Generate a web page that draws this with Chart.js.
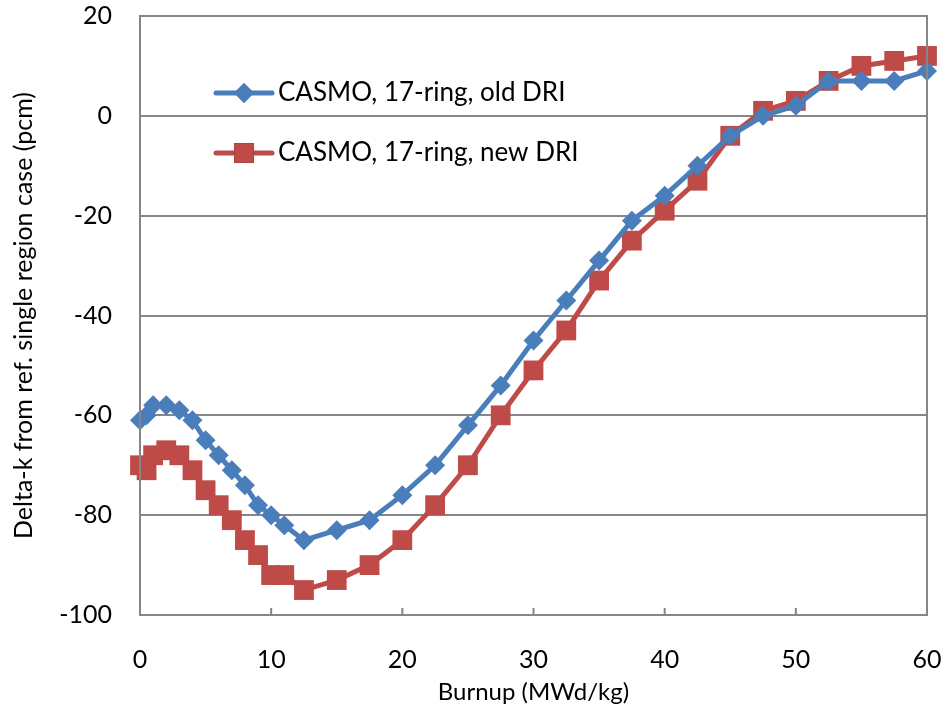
<!DOCTYPE html>
<html>
<head>
<meta charset="utf-8">
<script src="https://cdn.jsdelivr.net/npm/chart.js@4"></script>
<style>
  html, body { margin: 0; padding: 0; background: #fff; }
  #wrap { width: 945px; height: 721px; position: relative; }
</style>
</head>
<body>
<div id="wrap"><canvas id="chart"></canvas></div>
<script>
// burnup steps (MWd/kg)
const burnup = [0, 0.5, 1, 2, 3, 4, 5, 6, 7, 8, 9, 10, 11, 12.5, 15, 17.5, 20, 22.5, 25, 27.5, 30,
                32.5, 35, 37.5, 40, 42.5, 45, 47.5, 50, 52.5, 55, 57.5, 60];
// delta-k (pcm)
const oldDRI = [-61, -60, -58, -58, -59, -61, -65, -68, -71, -74, -78, -80, -82, -85, -83, -81, -76,
                -70, -62, -54, -45, -37, -29, -21, -16, -10, -4, 0, 2, 7, 7, 7, 9];
const newDRI = [-70, -71, -68, -67, -68, -71, -75, -78, -81, -85, -88, -92, -92, -95, -93, -90, -85,
                -78, -70, -60, -51, -43, -33, -25, -19, -13, -4, 1, 3, 7, 10, 11, 12];
const seriesNames = ['CASMO, 17-ring, old DRI', 'CASMO, 17-ring, new DRI'];

const FONT = 'Lato, "Open Sans", sans-serif';
const AXIS = '#868686';

function toPoints(ys) {
    return burnup.map((x, i) => ({x: x, y: ys[i]}));
}

function noPad(scale) {
    scale.paddingTop = 0;
    scale.paddingBottom = 0;
    scale.paddingLeft = 0;
    scale.paddingRight = 0;
}

// frame around the plot + short inner tick marks on the x axis
const framePlugin = {
    id: 'frame',
    afterDraw(chart) {
        const ctx = chart.ctx;
        const a = chart.chartArea;
        const xs = chart.scales.x;
        ctx.save();
        ctx.strokeStyle = AXIS;
        ctx.lineWidth = 2;
        xs.ticks.forEach(t => {
            const px = xs.getPixelForValue(t.value);
            ctx.beginPath();
            ctx.moveTo(px, a.bottom);
            ctx.lineTo(px, a.bottom - 7);
            ctx.stroke();
        });
        ctx.strokeRect(a.left, a.top, a.right - a.left, a.bottom - a.top);
        ctx.restore();
    }
};

// legend drawn inside the plot area
const boxLegend = {
    id: 'boxLegend',
    afterDatasetsDraw(chart) {
        const ctx = chart.ctx;
        const a = chart.chartArea;
        const x0 = a.left + 76, lineW = 56;
        const rows = [a.top + 77, a.top + 137];
        ctx.save();
        chart.data.datasets.forEach((ds, i) => {
            const y = rows[i];
            ctx.strokeStyle = ds.borderColor;
            ctx.lineWidth = ds.borderWidth;
            ctx.lineCap = 'round';
            ctx.beginPath();
            ctx.moveTo(x0, y);
            ctx.lineTo(x0 + lineW, y);
            ctx.stroke();
            Chart.helpers.drawPoint(ctx, {
                pointStyle: ds.pointStyle,
                radius: ds.pointRadius,
                borderWidth: 0
            }, x0 + lineW / 2, y);
            ctx.fillStyle = ds.backgroundColor;
            ctx.fill();
            ctx.fillStyle = '#000';
            ctx.font = '26px ' + FONT;
            ctx.textBaseline = 'middle';
            ctx.fillText(ds.label, x0 + lineW + 6, y);
        });
        ctx.restore();
    }
};

new Chart(document.getElementById('chart'), {
    type: 'scatter',
    data: {
        datasets: [{
            label: seriesNames[0],
            data: toPoints(oldDRI),
            showLine: true,
            borderColor: '#4a7ebb',
            backgroundColor: '#4a7ebb',
            borderWidth: 5,
            pointStyle: 'rectRot',
            pointRadius: 10,
            pointHoverRadius: 10,
            pointBorderWidth: 0
        }, {
            label: seriesNames[1],
            data: toPoints(newDRI),
            showLine: true,
            borderColor: '#be4b48',
            backgroundColor: '#be4b48',
            borderWidth: 5,
            pointStyle: 'rect',
            pointRadius: 14,
            pointHoverRadius: 14,
            pointBorderWidth: 0
        }]
    },
    options: {
        responsive: true,
        maintainAspectRatio: false,
        animation: false,
        clip: false,
        layout: { padding: { top: 16, right: 18, left: 0, bottom: 0 } },
        plugins: {
            legend: { display: false },
            tooltip: { enabled: false }
        },
        scales: {
            x: {
                type: 'linear',
                min: 0,
                max: 60,
                ticks: { stepSize: 10, padding: 30, color: '#000', font: { family: FONT, size: 25 } },
                grid: { display: false, drawTicks: false },
                border: { display: false },
                title: {
                    display: true,
                    text: 'Burnup (MWd/kg)',
                    color: '#000',
                    font: { family: FONT, size: 24 },
                    padding: { top: 0, bottom: 14 }
                },
                afterFit(scale) { scale.height = 106; noPad(scale); }
            },
            y: {
                min: -100,
                max: 20,
                ticks: { stepSize: 20, padding: 28, color: '#000', font: { family: FONT, size: 25 } },
                grid: { color: AXIS, lineWidth: 2, drawTicks: false },
                border: { display: false },
                title: {
                    display: true,
                    text: 'Delta-k from ref. single region case (pcm)',
                    color: '#000',
                    font: { family: FONT, size: 25 },
                    padding: { top: 9, bottom: 0 }
                },
                afterFit(scale) { scale.width = 140; noPad(scale); }
            }
        }
    },
    plugins: [framePlugin, boxLegend]
});
</script>
</body>
</html>
